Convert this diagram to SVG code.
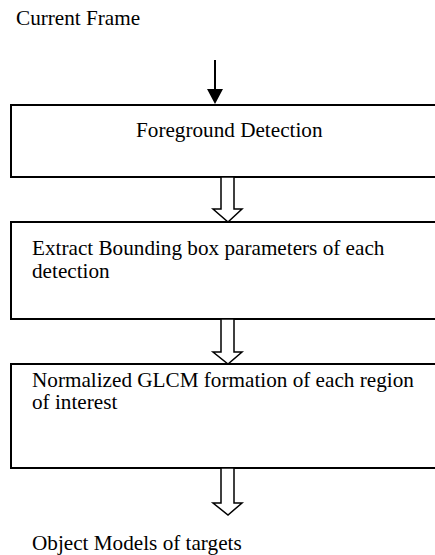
<svg xmlns="http://www.w3.org/2000/svg" width="435" height="555" viewBox="0 0 435 555">
<style>
.t{font-family:'Liberation Serif','Times New Roman',serif;font-size:21.2px;fill:#000}
.box{fill:#fff;stroke:#000;stroke-width:2}
.hollow{fill:#fff;stroke:#000;stroke-width:1.5;stroke-linejoin:miter}
</style>
<rect width="435" height="555" fill="#fff"/>
<g id="label-current-frame"><text class="t" x="16" y="25">Current Frame</text></g>
<g id="node-foreground">
<rect class="box" x="11" y="105" width="440" height="72"/>
<text class="t" x="136" y="137">Foreground Detection</text>
</g>
<g id="node-extract">
<rect class="box" x="11" y="222" width="440" height="97"/>
<text class="t" x="32" y="255">Extract Bounding box parameters of each</text>
<text class="t" x="32" y="278">detection</text>
</g>
<g id="node-glcm">
<rect class="box" x="11" y="364" width="440" height="104"/>
<text class="t" x="32" y="387">Normalized GLCM formation of each region</text>
<text class="t" x="32" y="409">of interest</text>
</g>
<g id="label-object-models"><text class="t" x="32" y="550">Object Models of targets</text></g>
<g id="connectors">
<line x1="215" y1="60" x2="215" y2="90" stroke="#000" stroke-width="2"/>
<polygon points="207,89 223,89 215,104" fill="#000"/>
<polygon class="hollow" points="221,177 234,177 234,209 242,209 228,222 213,209 221,209"/>
<polygon class="hollow" points="221,319 234,319 234,352 242,352 228,364 213,352 221,352"/>
<polygon class="hollow" points="221,468 234,468 234,503 242,503 228,515 213,503 221,503"/>
</g>
</svg>
